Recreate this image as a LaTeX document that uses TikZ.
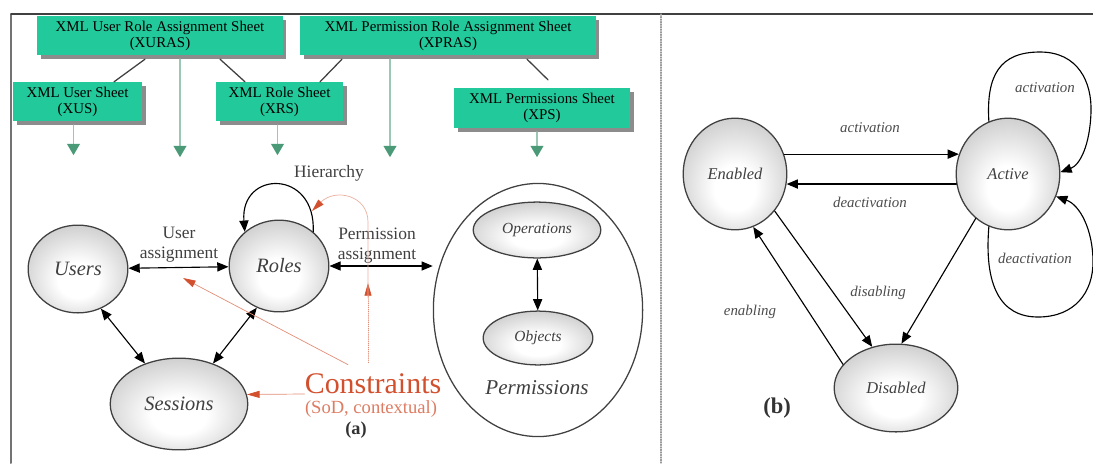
\documentclass[tikz,border=0pt]{standalone}
\usepackage{fontspec}
\setmainfont{Liberation Serif}
\usetikzlibrary{arrows.meta,shapes.geometric,shadows,calc}

\definecolor{xmlgreen}{HTML}{22C99B}
\definecolor{xmlarrow}{HTML}{4A9A78}
\definecolor{consred}{HTML}{D2502E}

\pgfdeclareradialshading{nodeball}{\pgfpoint{0bp}{-8bp}}{%
  color(0bp)=(white); color(10bp)=(white); color(50bp)=(black!40)}

\begin{document}
\begin{tikzpicture}[
  x=0.025cm, y=0.025cm,
  line cap=round,
  line join=round,
  sheet/.style={rectangle, fill=xmlgreen, inner sep=0pt, align=center,
    text=black, font=\fontsize{10.6}{11.4}\selectfont,
    drop shadow={shadow xshift=2.8pt, shadow yshift=-2.8pt, fill=black!45, opacity=1}},
  sheetline/.style={black!75, line width=0.9pt},
  feed/.style={draw=xmlarrow!55, line width=1.2pt,
    -{Triangle[length=8pt,width=9pt,color=xmlarrow]}},
  role/.style={ellipse, draw=black!75, line width=0.9pt, shading=nodeball,
    inner sep=0pt, text=black!75, font=\fontsize{14.5}{16}\selectfont\itshape},
  state/.style={role, font=\fontsize{11.7}{13}\selectfont\itshape},
  lbl/.style={inner sep=0pt, align=center, text=black!75,
    font=\fontsize{12.4}{14.2}\selectfont},
  trans/.style={inner sep=0pt, text=black!70, font=\fontsize{10.6}{12}\selectfont\itshape},
  both/.style={line width=0.8pt,
    {Triangle[length=8pt,width=6.5pt]}-{Triangle[length=8pt,width=6.5pt]}},
  one/.style={line width=0.8pt, -{Triangle[length=8pt,width=6.5pt]}},
  redarrow/.style={draw=consred!65, line width=0.5pt,
    -{Triangle[length=9pt,width=5pt,color=consred]}}
]
  \useasboundingbox (0,0) rectangle (1093,-463);

  % Рамка и разделитель
  \draw[black!55, line width=1.4pt] (11,-463) -- (11,-14);
  \draw[black!75, line width=0.8pt] (11,-14) -- (1093,-14);
  \draw[black!40, densely dotted, line width=0.8pt] (661,-14) -- (661,-463);

  % XML-листы
  \node[sheet, minimum width=174.3pt, minimum height=27.6pt] (xuras) at (160,-35.5)
    {XML User Role Assignment Sheet\\(XURAS)};
  \node[sheet, minimum width=209.8pt, minimum height=27.6pt] (xpras) at (448,-35.5)
    {XML Permission Role Assignment Sheet\\(XPRAS)};
  \node[sheet, minimum width=91.4pt, minimum height=27.6pt] (xus) at (77.5,-101.5)
    {XML User Sheet\\(XUS)};
  \node[sheet, minimum width=90pt, minimum height=27.6pt] (xrs) at (279.5,-101.5)
    {XML Role Sheet\\(XRS)};
  \node[sheet, minimum width=124.7pt, minimum height=28.3pt] (xps) at (542,-108)
    {XML Permissions Sheet\\(XPS)};

  \draw[sheetline] ($(xuras.south)+(-15,-4)$) -- ($(xus.north)+(36.5,0)$);
  \draw[sheetline] ($(xuras.south)+(60,-4)$) -- ($(xrs.north)+(-34.5,0)$);
  \draw[sheetline] ($(xpras.south)+(-106,-4)$) -- ($(xrs.north)+(40.5,0)$);
  \coordinate (xpsend) at ($(xps.north)+(6,8)$);
  \draw[sheetline] ($(xpras.south)+(79,-4)$) -- (xpsend);

  \draw[feed] ($(xus.south)+(-4,-4)$) -- ++(0,-30);
  \draw[feed] ($(xuras.south)+(20,-4)$) -- ++(0,-98);
  \draw[feed] ($(xrs.south)+(-2,-4)$) -- ++(0,-30);
  \draw[feed] ($(xpras.south)+(-58,-4)$) -- ++(0,-98);
  \draw[feed] ($(xps.south)+(-5,-4)$) -- ++(0,-25);

  % (a) Модель RBAC
  \node[role, minimum width=70.9pt, minimum height=62.4pt] (users) at (78,-269) {Users};
  \node[role, minimum width=70.9pt, minimum height=65.2pt] (roles) at (279,-266) {Roles};
  \node[role, minimum width=97.8pt, minimum height=65.2pt] (sessions) at (179,-404) {Sessions};

  \node[ellipse, draw=black!75, line width=0.9pt, minimum width=148.8pt,
    minimum height=180pt] (perms) at (538,-310) {};
  \node[role, font=\fontsize{11}{12}\selectfont\itshape,
    minimum width=90.7pt, minimum height=39.7pt] (ops) at (537,-230) {Operations};
  \node[role, font=\fontsize{11}{12}\selectfont\itshape,
    minimum width=78pt, minimum height=38.3pt] (objs) at (538,-338) {Objects};
  \node[inner sep=0pt, text=black!75, font=\fontsize{15}{17}\selectfont\itshape]
    (permtxt) at (537,-388) {Permissions};

  \draw[both] (users) -- (roles);
  \draw[both] (roles.east) -- (roles.east -| perms.west);
  \draw[both] (users.-60) -- (sessions.130);
  \draw[both] (roles.242) -- (sessions.50);
  \draw[both] (ops) -- (objs);
  \draw[one] (roles.45) .. controls +(3,63) and +(-5,62) .. (roles.135);

  \node[lbl] (ualbl) at (179,-245) {User\\assignment};
  \node[lbl] (palbl) at (377,-246) {Permission\\assignment};
  \node[lbl] (hierlbl) at (329,-173) {Hierarchy};

  % Ограничения
  \node[inner sep=0pt, text=consred, font=\fontsize{21.3}{24}\selectfont]
    (cons) at (373,-384) {Constraints};
  \node[inner sep=0pt, text=consred!75, font=\fontsize{13.2}{15}\selectfont]
    (sod) at (371,-409) {(SoD, contextual)};
  \node[inner sep=0pt, text=black!80, font=\fontsize{13}{15}\selectfont\bfseries]
    (taga) at (356,-430) {(a)};

  \coordinate (uahit) at (183,-278);
  \coordinate (pahit) at (368,-283);
  \coordinate (hierhit) at (312,-211);
  \draw[redarrow] ($(cons.north)+(-25,9)$) -- (uahit);
  \draw[redarrow] ($(cons.west)+(0,-10)$) -- (sessions.8);
  \draw[redarrow, densely dotted] ($(cons.north)+(-5,11)$) -- (pahit);
  \draw[redarrow, draw=consred!45] (368,-298) -- (368,-222)
    .. controls (368,-195) and (335,-188) .. (hierhit);

  % (b) Состояния роли
  \node[state, minimum width=73.7pt, minimum height=79.4pt] (enabled) at (735,-174) {Enabled};
  \node[state, minimum width=73.7pt, minimum height=79.4pt] (active) at (1008,-174) {Active};
  \node[state, minimum width=87.9pt, minimum height=62.4pt] (disabled) at (896,-388) {Disabled};

  \draw[one] (enabled.22) -- (active.158);
  \draw[one] (active.191) -- (enabled.-11);
  \draw[one] (enabled.-43) -- (disabled.120);
  \draw[one] (disabled.156) -- (enabled.-71);
  \draw[one] (active.234) -- (disabled.83);

  \draw[one] (active.110) .. controls (986,-75) and (1000,-52) .. (1040,-52)
    .. controls (1078,-52) and (1092,-82) .. (1091,-112)
    .. controls (1090,-145) and (1080,-165) .. (active.2);
  \draw[one] (active.250) .. controls (984,-285) and (1000,-317) .. (1038,-317)
    .. controls (1075,-317) and (1093,-292) .. (1093,-262)
    .. controls (1093,-230) and (1080,-205) .. (active.-25);

  \node[trans] (actlbl) at (870,-128) {activation};
  \node[trans] (deactlbl) at (870,-202) {deactivation};
  \node[trans] (dislbl) at (878,-293) {disabling};
  \node[trans] (enlbl) at (750,-312) {enabling};
  \node[trans] (selfact) at (1045,-88) {activation};
  \node[trans] (selfdeact) at (1035,-258) {deactivation};
  \node[inner sep=0pt, text=black!80, font=\fontsize{16}{18}\selectfont\bfseries]
    (tagb) at (777,-408) {(b)};
\end{tikzpicture}
\end{document}
